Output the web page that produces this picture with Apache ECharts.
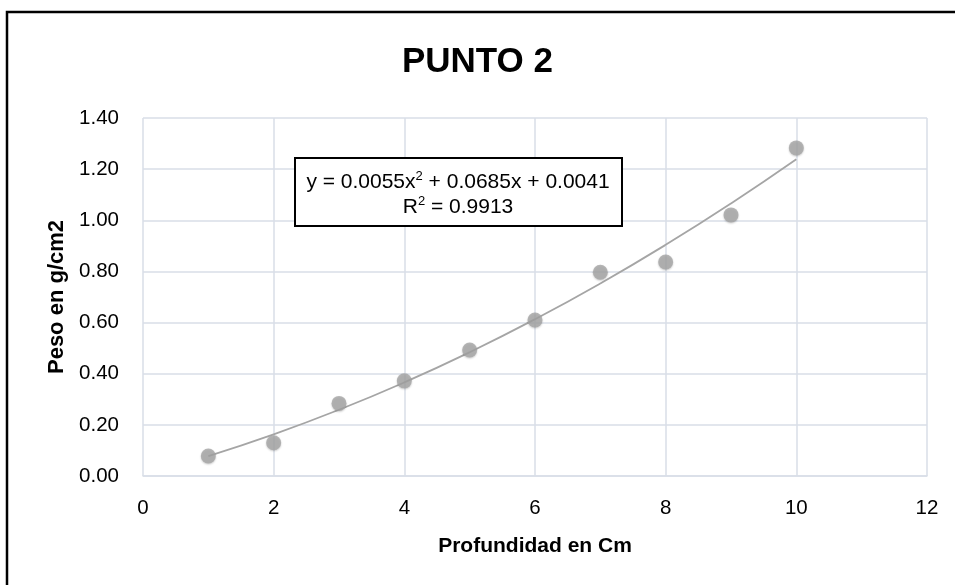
<!DOCTYPE html>
<html>
<head>
<meta charset="utf-8">
<script src="https://cdn.jsdelivr.net/npm/echarts@6/dist/echarts.min.js"></script>
<style>
html,body{margin:0;padding:0;background:#fff;}
#chart{width:955px;height:585px;}
</style>
</head>
<body>
<div id="chart"></div>
<script>
var titleText = 'PUNTO 2';
var xAxisName = 'Profundidad en Cm';
var yAxisName = 'Peso en g/cm2';
var depth = [1, 2, 3, 4, 5, 6, 7, 8, 9, 10];
var weight = [0.078, 0.130, 0.284, 0.372, 0.493, 0.610, 0.797, 0.837, 1.021, 1.283];
var trendValues = [0.078, 0.163, 0.259, 0.366, 0.484, 0.613, 0.753, 0.904, 1.066, 1.239];
var equationLines = ['y = 0.0055x{sup|2} + 0.0685x + 0.0041', 'R{sup|2} = 0.9913'];

var FONT = '"Liberation Sans", Arial, sans-serif';
var chart = echarts.init(document.getElementById('chart'));
chart.setOption({
  animation: false,
  backgroundColor: '#ffffff',
  title: {
    text: titleText, left: 'center', top: 40,
    textStyle: {fontFamily: FONT, fontSize: 35, fontWeight: 'bold', color: '#000'}
  },
  grid: {left: 143, right: 28, top: 118, bottom: 109},
  xAxis: {
    type: 'value', min: 0, max: 12, interval: 2,
    name: xAxisName, nameLocation: 'middle', nameGap: 60,
    nameTextStyle: {fontFamily: FONT, fontSize: 21, fontWeight: 'bold', color: '#000'},
    axisLine: {show: true, lineStyle: {color: '#d9dee7', width: 1.5}},
    axisTick: {show: false},
    axisLabel: {fontFamily: FONT, fontSize: 20.5, color: '#000', margin: 22},
    splitLine: {show: true, lineStyle: {color: '#d9dee7', width: 1.5}}
  },
  yAxis: {
    type: 'value', min: 0, max: 1.4, interval: 0.2,
    name: yAxisName, nameLocation: 'middle', nameGap: 75, nameRotate: 90,
    nameTextStyle: {fontFamily: FONT, fontSize: 22, fontWeight: 'bold', color: '#000'},
    axisLine: {show: false},
    axisTick: {show: false},
    axisLabel: {fontFamily: FONT, fontSize: 20.5, color: '#000', margin: 24,
      formatter: function (v) { return v.toFixed(2); }},
    splitLine: {show: true, lineStyle: {color: '#d9dee7', width: 1.5}}
  },
  series: [
    {
      type: 'line', smooth: true, symbol: 'none',
      data: depth.map(function (x, i) { return [x, trendValues[i]]; }),
      lineStyle: {color: '#a5a5a5', width: 1.8}, z: 2
    },
    {
      type: 'scatter', symbolSize: 15,
      data: depth.map(function (x, i) { return [x, weight[i]]; }),
      itemStyle: {color: '#a5a5a5', shadowColor: 'rgba(0,0,0,0.25)', shadowBlur: 2, shadowOffsetY: 1}, z: 3
    }
  ],
  graphic: [
    {type: 'rect', shape: {x: 7, y: 12, width: 1200, height: 1200},
     style: {fill: 'none', stroke: '#000', lineWidth: 2.5}, silent: true},
    {type: 'rect', shape: {x: 295, y: 158, width: 327, height: 68},
     style: {fill: '#fff', stroke: '#000', lineWidth: 2}, z: 10},
    {type: 'text', x: 458, y: 195, z: 11,
     style: {text: equationLines.join('\n'), fontFamily: FONT, fontSize: 21, fill: '#000',
       align: 'center', verticalAlign: 'middle', lineHeight: 25,
       rich: {sup: {fontSize: 13, verticalAlign: 'top', padding: [0,0,9,0], fontFamily: FONT, fill: '#000'}}}}
  ]
});
</script>
</body>
</html>
